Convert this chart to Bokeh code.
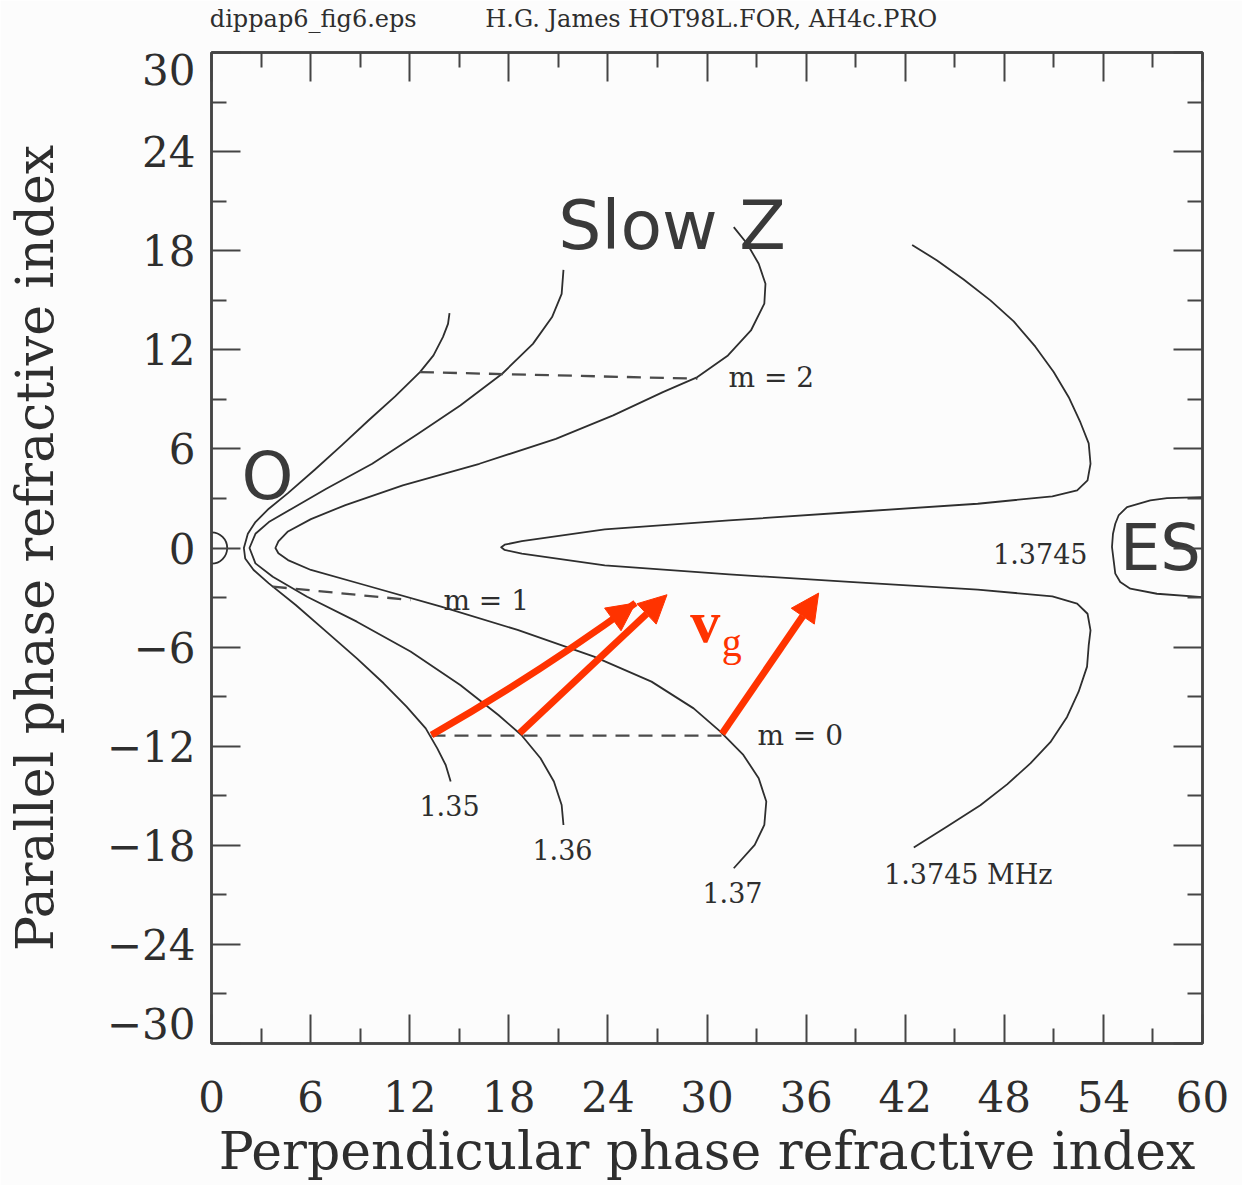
from bokeh.plotting import figure
from bokeh.models import Range1d, FixedTicker, LinearAxis, Arrow, NormalHead
from bokeh.core.properties import value
from bokeh.embed import file_html
from bokeh.resources import INLINE

# ---------------- data ----------------
x_ticks = [0, 6, 12, 18, 24, 30, 36, 42, 48, 54, 60]
x_minor = [3, 9, 15, 21, 27, 33, 39, 45, 51, 57]
y_ticks = [-30, -24, -18, -12, -6, 0, 6, 12, 18, 24, 30]
y_minor = [-27, -21, -15, -9, -3, 3, 9, 15, 21, 27]
# the end labels of the parallel axis are printed just inside the frame
y_label_pos = [-28.8, -24, -18, -12, -6, 0, 6, 12, 18, 24, 29.0]
y_label_txt = ["\u221230", "\u221224", "\u221218", "\u221212", "\u22126", "0", "6", "12", "18", "24", "30"]

# refractive index surfaces (perpendicular, parallel), lower end -> vertex -> upper end
c135_x = [14.48, 14.18, 13.67, 12.97, 11.81, 10.42, 8.8, 6.95, 5.1, 3.47, 2.55, 2.04, 1.96,
          2.2, 2.66, 3.47, 4.63, 6.25, 7.88, 9.5, 11.12, 12.62, 13.44, 14.01, 14.32, 14.41]
c135_y = [-14.14, -13.14, -12.13, -10.92, -9.6, -8.19, -6.68, -5.06, -3.45, -2.14, -1.33, -0.63, 0.0,
          0.86, 1.57, 2.38, 3.32, 4.74, 6.21, 7.72, 9.18, 10.65, 11.66, 12.77, 13.57, 14.22]

c136_x = [21.31, 21.2, 20.73, 19.92, 18.76, 17.37, 15.06, 12.05, 8.8, 5.79, 3.71, 2.66, 2.3,
          2.66, 3.47, 4.86, 6.95, 9.73, 12.51, 15.06, 17.6, 19.46, 20.62, 21.2, 21.31]
c136_y = [-16.77, -15.56, -14.14, -12.73, -11.32, -10.11, -8.29, -6.27, -4.46, -2.95, -1.74, -0.93, 0.0,
          0.86, 1.57, 2.38, 3.59, 5.1, 6.92, 8.63, 10.55, 12.36, 13.98, 15.39, 16.84]

c137_x = [31.62, 32.89, 33.47, 33.59, 33.13, 32.2, 30.81, 29.19, 26.64, 23.16, 18.53, 13.9, 9.27, 6.02, 4.63, 4.05, 3.87,
          4.05, 4.63, 6.02, 8.11, 11.58, 16.22, 20.85, 24.32, 27.33, 29.42, 31.27, 32.66, 33.47, 33.54, 33.13, 32.43, 31.62]
c137_y = [-19.39, -17.98, -16.77, -15.35, -13.94, -12.53, -11.12, -9.71, -8.09, -6.58, -4.96, -3.55, -2.24, -1.33, -0.73, -0.32, 0.0,
          0.4, 1.0, 1.75, 2.6, 3.79, 5.1, 6.61, 8.03, 9.44, 10.35, 11.66, 13.17, 14.79, 16.0, 17.21, 18.42, 19.43]

c13745_x = [42.52, 44.54, 46.55, 48.17, 49.58, 50.79, 51.8, 52.5, 53.01, 53.11, 53.22, 53.04, 52.41, 50.91, 46.39,
            38.86, 31.34, 23.81, 18.79, 17.75, 17.54, 17.75, 18.79, 23.81, 31.34, 38.86, 46.39, 50.91, 52.41,
            53.04, 53.22, 53.11, 52.61, 51.9, 50.99, 49.88, 48.57, 47.16, 45.54, 43.93, 42.42]
c13745_y = [-18.13, -16.86, -15.58, -14.31, -13.04, -11.76, -10.23, -8.7, -7.18, -5.9, -4.99, -3.98, -3.37, -2.93, -2.52,
            -2.06, -1.6, -1.05, -0.34, -0.12, 0.04, 0.2, 0.42, 1.13, 1.67, 2.18, 2.68, 3.13, 3.49,
            4.09, 5.1, 6.33, 7.6, 9.13, 10.66, 12.19, 13.72, 14.99, 16.26, 17.41, 18.35]

es_x = [60.0, 57.85, 56.84, 55.43, 54.92, 54.72, 54.58, 54.52, 54.62, 54.72, 55.02, 55.63, 57.24, 60.0]
es_y = [3.08, 3.02, 2.88, 2.48, 1.97, 1.47, 0.86, 0.06, -0.75, -1.55, -2.06, -2.46, -2.77, -2.97]

o_radius = 0.95

# constant-m lines
m_names = ["m = 2", "m = 1", "m = 0"]
m_x0 = [12.62, 3.71, 13.32]
m_x1 = [29.42, 12.05, 30.92]
m_y0 = [10.65, -2.34, -11.36]
m_y1 = [10.25, -3.15, -11.36]
m_lab_x = [31.3, 14.04, 33.05]
m_lab_y = [10.33, -3.17, -11.34]

# frequency labels
f_names = ["1.35", "1.36", "1.37", "1.3745 MHz", "1.3745"]
f_x = [14.41, 21.25, 31.54, 45.82, 50.18]
f_y = [-15.58, -18.25, -20.85, -19.76, -0.33]

# mode labels
mode_names = ["O", "Slow Z", "ES"]
mode_x = [3.39, 21.0, 55.0]
mode_y = [4.33, 19.53, 0.0]

# group velocity arrows
arrow_x0 = [13.32, 18.65, 30.91]
arrow_y0 = [-11.32, -11.22, -11.24]
arrow_x1 = [25.67, 27.58, 36.76]
arrow_y1 = [-3.33, -2.83, -2.73]
arrow1_cx, arrow1_cy = 19.7, -7.66

# header line; trailing no-break spaces keep the centred axis label flush with the frame's left edge
header_text = "dippap6_fig6.eps" + "\u00a0" * 9 + "H.G. James HOT98L.FOR, AH4c.PRO" + "\u00a0" * 35

INK = "#2e2e2e"
RED = "#ff3300"
SERIF = "DejaVu Serif"
SANS = "DejaVu Sans"

p = figure(width=1242, height=1185, x_range=Range1d(0, 60), y_range=Range1d(-30, 30),
           output_backend="svg", toolbar_location=None,
           min_border_left=211, min_border_right=40, min_border_top=52, min_border_bottom=142,
           background_fill_color="#fcfcfc", border_fill_color="#fcfcfc")
p.grid.visible = False
p.outline_line_color = "#444444"
p.outline_line_width = 2.5


def style_axis(ax, ticks, minor):
    ax.ticker = FixedTicker(ticks=ticks, minor_ticks=minor)
    ax.axis_line_color = "#444444"
    ax.axis_line_width = 2.5
    ax.major_tick_in = 29
    ax.major_tick_out = 0
    ax.minor_tick_in = 15
    ax.minor_tick_out = 0
    ax.major_tick_line_color = "#444444"
    ax.minor_tick_line_color = "#444444"
    ax.major_tick_line_width = 2
    ax.minor_tick_line_width = 2
    ax.major_label_text_font = SERIF
    ax.major_label_text_font_size = "42px"
    ax.major_label_text_color = INK
    ax.axis_label_text_font = SERIF
    ax.axis_label_text_font_size = "52px"
    ax.axis_label_text_font_style = "normal"
    ax.axis_label_text_color = INK


def no_labels(ax, ticks):
    ax.major_label_overrides = {t: "" for t in ticks}
    ax.major_label_standoff = 0


xa = p.xaxis[0]
ya = p.yaxis[0]
style_axis(xa, x_ticks, x_minor)
style_axis(ya, y_ticks, y_minor)
no_labels(ya, y_ticks)
xa.axis_label = "Perpendicular phase refractive index"
xa.major_label_standoff = 37
xa.axis_label_standoff = 6

# label-only axis for the parallel index
yl = LinearAxis()
style_axis(yl, y_label_pos, [])
yl.major_label_overrides = dict(zip(y_label_pos, y_label_txt))
yl.axis_line_color = None
yl.major_tick_line_color = None
yl.minor_tick_line_color = None
yl.major_label_standoff = 16
yl.axis_label = "Parallel phase refractive index"
yl.axis_label_standoff = 39
p.add_layout(yl, "left")

top_ax = LinearAxis()
right_ax = LinearAxis()
style_axis(top_ax, x_ticks, x_minor)
style_axis(right_ax, y_ticks, y_minor)
no_labels(top_ax, x_ticks)
no_labels(right_ax, y_ticks)
p.add_layout(top_ax, "above")
p.add_layout(right_ax, "right")

# header line above the frame
top_ax.axis_label = header_text
top_ax.axis_label_align = "center"
top_ax.axis_label_text_font_size = "24px"
top_ax.axis_label_standoff = 20

# curves
for cx, cy in [(c135_x, c135_y), (c136_x, c136_y), (c137_x, c137_y), (c13745_x, c13745_y), (es_x, es_y)]:
    p.line(cx, cy, line_color=INK, line_width=1.8, line_join="round")
p.circle(x=[0], y=[0], radius=o_radius, fill_color=None, line_color=INK, line_width=1.8)

# dashed m lines
p.segment(x0=m_x0, y0=m_y0, x1=m_x1, y1=m_y1, line_color="#4a4a4a", line_width=2.3, line_dash="14 9")
p.text(x=m_lab_x, y=m_lab_y, text=m_names, text_font=value(SERIF), text_font_size="28px",
       text_color=INK, text_align="left", text_baseline="middle")

# frequency labels
p.text(x=f_x, y=f_y, text=f_names, text_font=value(SERIF), text_font_size="27px",
       text_color=INK, text_align="center", text_baseline="middle")

# mode labels
p.text(x=mode_x[:1], y=mode_y[:1], text=mode_names[:1], text_font=value(SANS), text_font_size="66px",
       text_color="#3a3a3a", text_align="center", text_baseline="middle")
p.text(x=mode_x[1:2], y=mode_y[1:2], text=mode_names[1:2], text_font=value(SANS), text_font_size="68px",
       text_color="#3a3a3a", text_align="left", text_baseline="middle")
p.text(x=mode_x[2:], y=mode_y[2:], text=mode_names[2:], text_font=value(SANS), text_font_size="64px",
       text_color="#3a3a3a", text_align="left", text_baseline="middle")

# arrows
p.quadratic(x0=arrow_x0[:1], y0=arrow_y0[:1], x1=arrow_x1[:1], y1=arrow_y1[:1],
            cx=[arrow1_cx], cy=[arrow1_cy], line_color=RED, line_width=7)
hx = arrow_x1[0] - 0.1 * (arrow_x1[0] - arrow1_cx)
hy = arrow_y1[0] - 0.1 * (arrow_y1[0] - arrow1_cy)
p.add_layout(Arrow(end=NormalHead(size=28, fill_color=RED, line_color=RED, line_width=1),
                   x_start=hx, y_start=hy, x_end=arrow_x1[0], y_end=arrow_y1[0],
                   line_color=RED, line_width=7))
for i in (1, 2):
    p.add_layout(Arrow(end=NormalHead(size=28, fill_color=RED, line_color=RED, line_width=1),
                       x_start=arrow_x0[i], y_start=arrow_y0[i], x_end=arrow_x1[i], y_end=arrow_y1[i],
                       line_color=RED, line_width=7))

p.text(x=[29.9], y=[-4.5], text=["v"], text_font=value("Liberation Serif"), text_font_style="bold",
       text_font_size="60px", text_color=RED, text_align="center", text_baseline="middle")
p.text(x=[31.5], y=[-5.7], text=["g"], text_font=value("Liberation Serif"),
       text_font_size="40px", text_color=RED, text_align="center", text_baseline="middle")

open("out.html", "w").write(file_html(p, INLINE))
